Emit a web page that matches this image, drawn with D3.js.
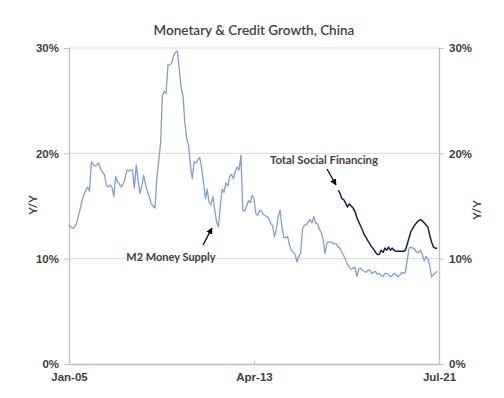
<!DOCTYPE html>
<html>
<head>
<meta charset="utf-8">
<script src="https://cdn.jsdelivr.net/npm/d3@7"></script>
<style>
  body { margin: 0; background: #fff; }
  svg { font-family: Lato, "Liberation Sans", sans-serif; }
</style>
</head>
<body>
<div id="chart"></div>
<script>
const width = 504;
const height = 398;
const margin = { top: 48, right: 65, bottom: 34, left: 69 };

// monthly Y/Y growth, M2 from Jan-05, TSF from Jan-17
const m2Start = new Date(2005, 0, 1);
const m2Values = [
  13.2, 13.0, 12.9, 13.0, 13.3, 14.0, 14.7, 15.5, 16.1, 16.5, 16.8, 16.4,
  19.2, 18.9, 18.8, 18.9, 19.1, 18.5, 18.2, 18.0, 17.0, 16.8, 17.0, 16.8,
  15.9, 17.8, 17.3, 17.1, 16.8, 17.1, 17.6, 18.4, 18.3, 18.4, 18.4, 16.7,
  18.9, 17.4, 16.2, 16.9, 17.9, 17.0, 16.4, 15.9, 15.2, 15.0, 14.8, 17.6,
  19.3, 21.0, 25.5, 25.9, 25.7, 28.4, 28.4, 28.6, 29.3, 29.6, 29.7, 28.0,
  26.2, 25.5, 23.0, 21.4, 20.8, 18.9, 17.6, 19.2, 19.1, 19.4, 19.6, 18.6,
  17.2, 15.7, 16.6, 15.3, 15.1, 15.9, 14.7, 13.5, 13.0, 15.0, 16.6, 16.3,
  17.2, 16.9, 17.8, 18.0, 17.6, 18.3, 18.7, 18.4, 19.8, 14.6, 14.5, 15.0,
  15.5, 15.3, 16.0, 15.7, 14.3, 14.1, 14.6, 14.5, 14.2, 14.1, 14.0, 13.8,
  13.3, 13.1, 12.1, 12.8, 14.0, 14.6, 13.0, 12.0, 12.0, 12.1, 11.3, 10.8,
  10.6, 10.4, 9.7, 10.2, 10.5, 12.8, 13.2, 13.2, 13.5, 13.7, 13.4, 14.0,
  13.4, 13.3, 12.8, 12.5, 11.8, 10.5, 11.5, 11.6, 11.6, 11.5, 11.4, 11.4,
  11.1, 11.0, 10.6, 10.3, 9.9, 9.5, 9.2, 9.0, 9.1, 9.2, 8.3, 9.0,
  9.1, 8.9, 8.8, 8.7, 8.9, 8.9, 8.6, 8.7, 8.8, 8.5, 8.6, 8.4,
  8.3, 8.6, 8.6, 8.5, 8.3, 8.4, 8.6, 8.5, 8.3, 8.4, 8.7, 8.6,
  8.7, 9.9, 11.0, 11.1, 11.0, 10.9, 10.6, 10.6, 10.8, 10.4, 9.8, 10.2,
  10.0, 9.3, 8.3, 8.5, 8.6, 8.8
];

const tsfStart = new Date(2017, 0, 1);
const tsfValues = [
  16.5, 16.2, 15.7, 15.6, 15.3, 14.9, 15.2, 15.0, 14.8, 14.5, 13.9, 13.5,
  13.1, 12.7, 12.3, 12.0, 11.7, 11.4, 11.1, 10.9, 10.6, 10.4, 10.4, 10.8,
  10.6, 11.0, 10.8, 11.1, 10.8, 11.0, 10.8, 10.7, 10.7, 10.7, 10.7, 10.7,
  10.8, 11.4, 12.0, 12.6, 12.9, 13.2, 13.4, 13.6, 13.7, 13.6, 13.4, 13.2,
  13.0, 12.2, 11.6, 11.1, 11.0, 11.0
];

const yTicks = [0, 10, 20, 30];
const xTicks = [new Date(2005, 0, 1), new Date(2013, 3, 1), new Date(2021, 6, 1)];

const toSeries = (start, values) =>
  values.map((v, i) => ({ date: d3.timeMonth.offset(start, i), value: v }));
const m2 = toSeries(m2Start, m2Values);
const tsf = toSeries(tsfStart, tsfValues);

const svg = d3.select("#chart").append("svg")
  .attr("width", width)
  .attr("height", height);

const x = d3.scaleTime()
  .domain([xTicks[0], xTicks[2]])
  .range([margin.left, width - margin.right]);
const y = d3.scaleLinear()
  .domain([0, 30])
  .range([height - margin.bottom, margin.top]);

const textColor = "#404040";
const axisColor = "#bfbfbf";

// gridlines
svg.append("g")
  .selectAll("line")
  .data(yTicks.filter(d => d > 0))
  .join("line")
  .attr("x1", margin.left)
  .attr("x2", width - margin.right)
  .attr("y1", d => y(d))
  .attr("y2", d => y(d))
  .attr("stroke", "#d9d9d9")
  .attr("stroke-width", 1);

const styleAxis = g => {
  g.select(".domain").attr("stroke", axisColor).attr("stroke-width", 1.3);
  g.selectAll(".tick line").attr("stroke", axisColor);
  g.selectAll(".tick text")
    .attr("fill", textColor)
    .attr("font-size", 11.5)
    .attr("font-weight", "bold");
};

svg.append("g")
  .attr("transform", `translate(${margin.left},0)`)
  .call(d3.axisLeft(y).tickValues(yTicks).tickFormat(d => d + "%").tickSize(5).tickSizeOuter(0).tickPadding(5))
  .call(styleAxis);

svg.append("g")
  .attr("transform", `translate(${width - margin.right},0)`)
  .call(d3.axisRight(y).tickValues(yTicks).tickFormat(d => d + "%").tickSize(5).tickSizeOuter(0).tickPadding(5))
  .call(styleAxis);

svg.append("g")
  .attr("transform", `translate(0,${height - margin.bottom})`)
  .call(d3.axisBottom(x).tickValues(xTicks).tickFormat(d3.timeFormat("%b-%y")).tickSize(3).tickSizeOuter(0).tickPadding(6))
  .call(styleAxis)
  .call(g => g.selectAll(".tick line").attr("y1", -3).attr("y2", 0));

const line = d3.line()
  .x(d => x(d.date))
  .y(d => y(d.value));

svg.append("path")
  .datum(m2)
  .attr("fill", "none")
  .attr("stroke", "#7f9ed6")
  .attr("stroke-width", 1.3)
  .attr("stroke-linejoin", "round")
  .attr("d", line);

svg.append("path")
  .datum(tsf)
  .attr("fill", "none")
  .attr("stroke", "#14224e")
  .attr("stroke-width", 1.5)
  .attr("stroke-linejoin", "round")
  .attr("d", line);

// title and axis titles
svg.append("text")
  .attr("x", 254)
  .attr("y", 35)
  .attr("text-anchor", "middle")
  .attr("fill", textColor)
  .attr("font-size", 13.5)
  .attr("font-weight", 600)
  .text("Monetary & Credit Growth, China");

svg.append("text")
  .attr("transform", "translate(37,205) rotate(-90)")
  .attr("text-anchor", "middle")
  .attr("fill", textColor)
  .attr("font-size", 11.5)
  .attr("font-weight", "bold")
  .text("Y/Y");

svg.append("text")
  .attr("transform", "translate(481,210) rotate(-90)")
  .attr("text-anchor", "middle")
  .attr("fill", textColor)
  .attr("font-size", 11.5)
  .attr("font-weight", "bold")
  .text("Y/Y");

// annotations
svg.append("defs").append("marker")
  .attr("id", "arrow")
  .attr("viewBox", "0 0 10 10")
  .attr("refX", 9)
  .attr("refY", 5)
  .attr("markerWidth", 5)
  .attr("markerHeight", 5)
  .attr("orient", "auto")
  .append("path")
  .attr("d", "M0,0L10,5L0,10z")
  .attr("fill", "#000");

svg.append("text")
  .attr("x", 171)
  .attr("y", 261)
  .attr("text-anchor", "middle")
  .attr("fill", textColor)
  .attr("font-size", 11)
  .attr("font-weight", "bold")
  .text("M2 Money Supply");

svg.append("line")
  .attr("x1", 203).attr("y1", 245)
  .attr("x2", 212).attr("y2", 228)
  .attr("stroke", "#000")
  .attr("stroke-width", 1.3)
  .attr("marker-end", "url(#arrow)");

svg.append("text")
  .attr("x", 324)
  .attr("y", 164)
  .attr("text-anchor", "middle")
  .attr("fill", textColor)
  .attr("font-size", 11.3)
  .attr("font-weight", "bold")
  .text("Total Social Financing");

svg.append("line")
  .attr("x1", 327).attr("y1", 169)
  .attr("x2", 336).attr("y2", 185)
  .attr("stroke", "#000")
  .attr("stroke-width", 1.3)
  .attr("marker-end", "url(#arrow)");
</script>
</body>
</html>
